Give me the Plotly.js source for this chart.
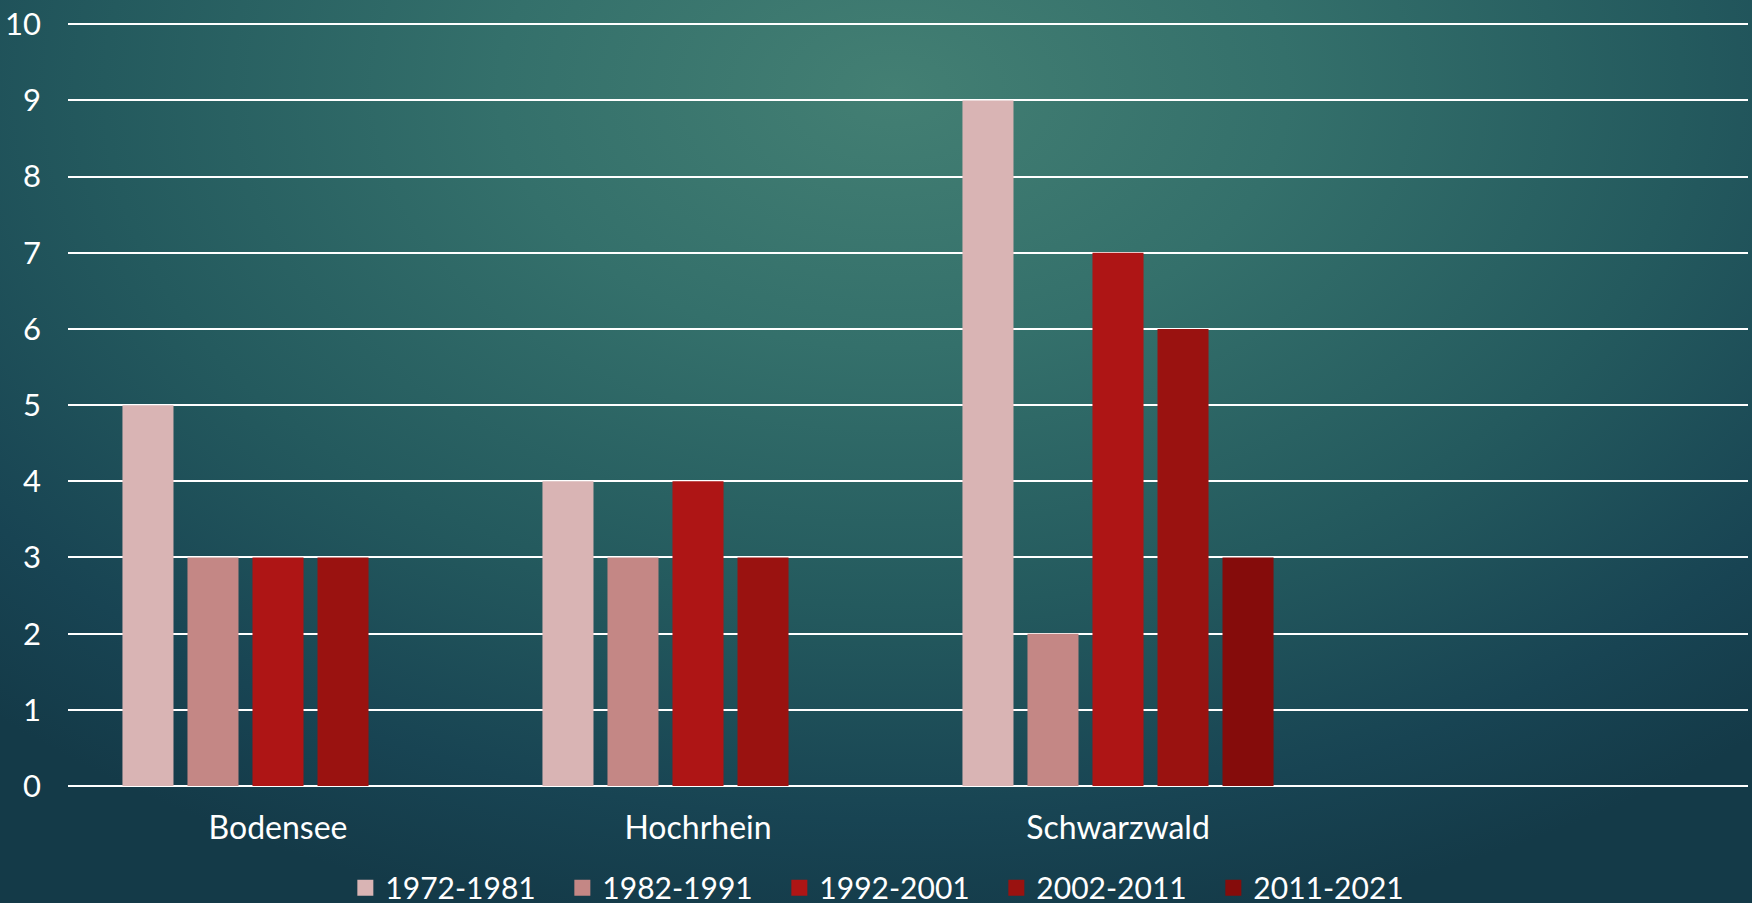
<!DOCTYPE html>
<html>
<head>
<meta charset="utf-8">
<script src="https://cdn.plot.ly/plotly-3.0.1.min.js"></script>
<style>
  html, body { margin: 0; padding: 0; }
  body {
    width: 1752px; height: 903px; overflow: hidden;
    background: radial-gradient(ellipse 75% 95% at 51% 10%, #437f73 0%, #34706b 30%, #245a5e 60%, #184453 85%, #143a48 100%);
  }
  #chart { width: 1752px; height: 930px; }
</style>
</head>
<body>
<div id="chart"></div>
<script>
// Regions on the x axis (fourth slot left empty like the original)
const regions = ['Bodensee', 'Hochrhein', 'Schwarzwald'];

// Periods (legend) and their colours
const periods = ['1972-1981', '1982-1991', '1992-2001', '2002-2011', '2011-2021'];
const colors = ['#d9b4b4', '#c48785', '#ae1515', '#9a1210', '#850c0b'];

// Counts per region for each period
const v1972 = [5, 4, 9];
const v1982 = [3, 3, 2];
const v1992 = [3, 4, 7];
const v2002 = [3, 3, 6];
const v2011 = [null, null, 3];

const values = [v1972, v1982, v1992, v2002, v2011];

const fontFamily = 'Lato, "Noto Sans", sans-serif';

// bars
const bars = periods.map((p, i) => ({
    type: 'bar',
    name: p,
    x: regions,
    y: values[i],
    legendgroup: p,
    showlegend: false,
    marker: { color: colors[i], line: { width: 0 } }
}));

// legend entries with bigger square swatches
const keys = periods.map((p, i) => ({
    type: 'scatter',
    mode: 'markers',
    name: p,
    x: [null],
    y: [null],
    legendgroup: p,
    marker: { symbol: 'square', size: 18, color: colors[i] }
}));

// the div is taller than the window so the legend box can sit at the very bottom
const layout = {
    width: 1752,
    height: 930,
    paper_bgcolor: 'rgba(0,0,0,0)',
    plot_bgcolor: 'rgba(0,0,0,0)',
    margin: { l: 68, r: 4, t: 22, b: 144 },
    barmode: 'group',
    bargap: 0.226,
    bargroupgap: 0.215,
    font: { family: fontFamily, color: '#ffffff', size: 30 },
    xaxis: {
        type: 'category',
        range: [-0.5, 3.5],
        showgrid: false,
        zeroline: false,
        showline: false,
        ticks: '',
        tickfont: { size: 32, color: '#ffffff' },
        ticklabelstandoff: 20
    },
    yaxis: {
        range: [0, 10.03],
        tickvals: [0, 1, 2, 3, 4, 5, 6, 7, 8, 9, 10],
        showgrid: true,
        gridcolor: '#ffffff',
        gridwidth: 2,
        zeroline: true,
        zerolinecolor: '#ffffff',
        zerolinewidth: 2,
        showline: false,
        ticks: '',
        tickfont: { size: 31, color: '#ffffff' },
        ticklabelstandoff: 26
    },
    legend: {
        orientation: 'h',
        x: 0.488,
        xanchor: 'center',
        y: -0.099,
        yanchor: 'top',
        font: { size: 30, color: '#ffffff' },
        bgcolor: 'rgba(0,0,0,0)',
        entrywidth: 172,
        itemwidth: 30,
        traceorder: 'normal'
    },
    showlegend: true
};

Plotly.newPlot('chart', bars.concat(keys), layout, { displayModeBar: false, staticPlot: true });
</script>
</body>
</html>
